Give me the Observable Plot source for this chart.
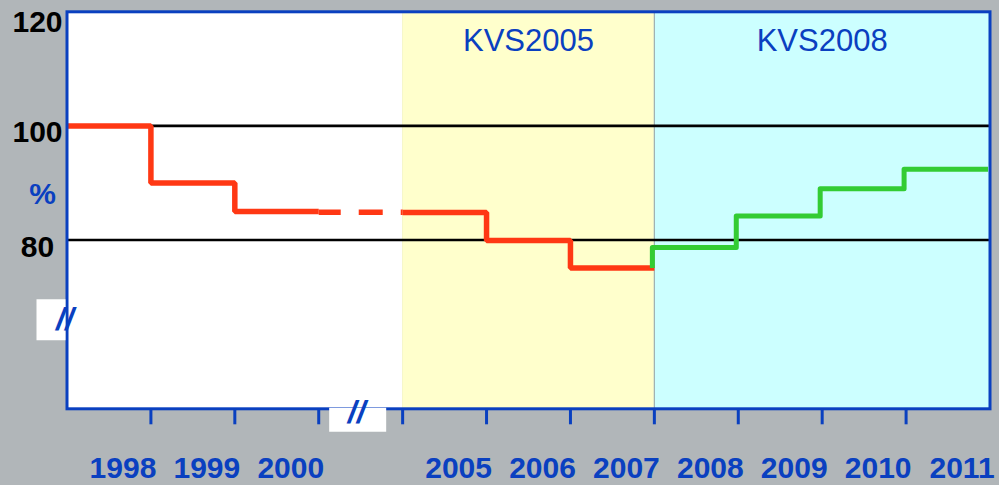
<!DOCTYPE html>
<html>
<head>
<meta charset="utf-8">
<script src="https://cdn.jsdelivr.net/npm/d3@7"></script>
<script src="https://cdn.jsdelivr.net/npm/@observablehq/plot@0.6"></script>
<style>
  html, body { margin: 0; padding: 0; background: #b1b6b9; }
  #chart { width: 999px; height: 485px; }
</style>
</head>
<body>
<div id="chart"></div>
<script>
// ---- data ----
const categories = ["1998", "1999", "2000", "", "2005", "2006", "2007", "2008", "2009", "2010", "2011"];
const redValues = [100, 90, 85, 84.85, 84.8, 79.9, 75.1];   // 1998..2007 (index 3 = gap, dashed)
const greenValues = [78.7, 84.2, 89.0, 92.4];              // 2008..2011
const yTicks = [120, 100, 80];
const gridValues = [100, 80];
const yDomain = [50.4, 120];
const bandNames = ["", "KVS2005", "KVS2008"];
const bandStart = [0, 4, 7];
const bandEnd = [4, 7, 11];
const bandFill = ["#ffffff", "#ffffcc", "#ccffff"];
const yUnit = "%";
const xBreak = [3.5];
const yBreak = [66];

// ---- derived tables ----
const blue = "#0a40c0";
const red = "#ff3814";
const green = "#33cc33";
const bands = bandNames.map((name, i) => ({name, start: bandStart[i], end: bandEnd[i], fill: bandFill[i]}));
const redSolid1 = [0, 1, 2].map(i => ({x: i, y: redValues[i]})).concat([{x: 3, y: redValues[2]}]);
const redDashed = [{x: 3, y: redValues[3]}, {x: 4, y: redValues[3]}];
const redSolid2 = [4, 5, 6].map(i => ({x: i, y: redValues[i]})).concat([{x: 7, y: redValues[6]}]);
const greenLine = [{x: 7, y: redValues[6]}]
  .concat(greenValues.map((v, j) => ({x: 7 + j, y: v})))
  .concat([{x: 11, y: greenValues[greenValues.length - 1]}]);
const labels = categories.map((c, i) => ({x: i + 0.5, text: c}));
const tickPositions = d3.range(1, categories.length);
const topTick = yDomain[1];

const boxV = {draw(ctx) { ctx.rect(-14.5, -20.5, 29, 41); }};
const boxH = {draw(ctx) { ctx.rect(-28.5, -12, 57, 24); }};

const font = "'Liberation Sans', Arial, Helvetica, sans-serif";

const chart = Plot.plot({
  width: 999,
  height: 485,
  marginLeft: 66.5,
  marginRight: 9.5,
  marginTop: 11.3,
  marginBottom: 76.7,
  style: {background: "#b1b6b9", fontFamily: font, overflow: "visible"},
  x: {domain: [0, categories.length], axis: null},
  y: {domain: yDomain, axis: null},
  color: {type: "identity"},
  marks: [
    Plot.rect(bands, {x1: "start", x2: "end", y1: yDomain[0], y2: yDomain[1], fill: "fill"}),
    Plot.ruleX([bandStart[2]], {stroke: "#9aa6a6", strokeWidth: 1}),
    Plot.ruleY(gridValues, {stroke: "#000", strokeWidth: 2.6}),
    Plot.line(redSolid1, {x: "x", y: "y", curve: "step-after", stroke: red, strokeWidth: 5.5, strokeLinejoin: "miter", strokeLinecap: "butt"}),
    Plot.line(redDashed, {x: "x", y: "y", stroke: red, strokeWidth: 5.5, strokeDasharray: "22,18,24,18", strokeLinecap: "butt"}),
    Plot.line(redSolid2, {x: "x", y: "y", curve: "step-after", stroke: red, strokeWidth: 5.5, strokeLinejoin: "miter", strokeLinecap: "butt"}),
    Plot.line(greenLine, {x: "x", y: "y", curve: "step-after", stroke: green, strokeWidth: 5, strokeLinejoin: "round", strokeLinecap: "butt", dx: -2}),
    Plot.frame({stroke: blue, strokeWidth: 3}),
    Plot.axisX({ticks: tickPositions, tickSize: 16, tickFormat: () => "", stroke: blue, strokeWidth: 3}),
    Plot.text(labels, {x: "x", text: "text", frameAnchor: "bottom", lineAnchor: "top", dy: 47.5, dx: 14,
      fontSize: 30, fontWeight: "bold", fill: blue}),
    Plot.text(yTicks.filter(d => d !== topTick), {y: d => d, text: d => String(d), frameAnchor: "left", dx: -29.5, dy: 7, textAnchor: "middle",
      fontSize: 30, fontWeight: "bold", fill: "#000"}),
    Plot.text(yTicks.filter(d => d === topTick), {y: d => d, text: d => String(d), frameAnchor: "left", dx: -29.5, dy: 11, textAnchor: "middle",
      fontSize: 30, fontWeight: "bold", fill: "#000"}),
    Plot.text([yUnit], {y: gridValues[0] - 10, text: d => d, frameAnchor: "left", dx: -24.5, dy: 11, textAnchor: "middle",
      fontSize: 30, fontWeight: "bold", fill: blue}),
    Plot.text(bands.filter(b => b.name), {x: b => (b.start + b.end) / 2, text: "name", frameAnchor: "top", lineAnchor: "top", dy: 17,
      fontSize: 31, fill: blue}),
    Plot.dot(yBreak, {y: d => d, frameAnchor: "left", dx: -16, symbol: boxV, fill: "#ffffff", stroke: null}),
    Plot.dot(xBreak, {x: d => d, frameAnchor: "bottom", dx: -3, dy: 11, symbol: boxH, fill: "#ffffff", stroke: null}),
    Plot.text(yBreak, {y: d => d, text: () => "//", frameAnchor: "left", dx: -11, fontSize: 32, fontWeight: "bold", fontStyle: "italic", fill: blue}),
    Plot.text(xBreak, {x: d => d, text: () => "//", frameAnchor: "bottom", dx: -4, dy: 14, fontSize: 32, fontWeight: "bold", fontStyle: "italic", fill: blue})
  ]
});
document.getElementById("chart").append(chart);
</script>
</body>
</html>
